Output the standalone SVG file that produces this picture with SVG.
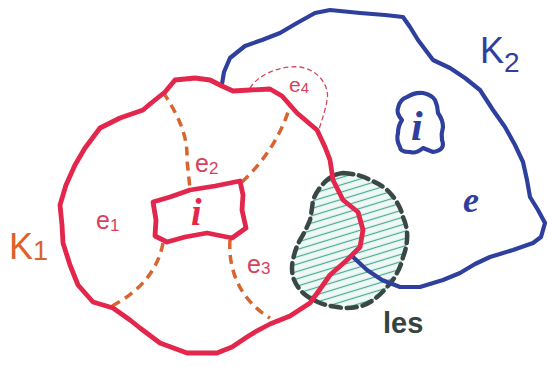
<svg xmlns="http://www.w3.org/2000/svg" width="548" height="367" viewBox="0 0 548 367">
<style>
.red{fill:none;stroke:#e3264c;stroke-width:4.8;stroke-linejoin:round;stroke-linecap:round}
.blue{fill:none;stroke:#2f3f9e;stroke-width:4.2;stroke-linejoin:round;stroke-linecap:round}
.dash{fill:none;stroke:#d8652f;stroke-width:3.5;stroke-dasharray:9 6;stroke-linecap:butt}
.thin{fill:none;stroke:#d9485a;stroke-width:1.3;stroke-dasharray:5 3}
.lbl{font-family:"Liberation Sans",Arial,sans-serif;fill:#d9405a}
</style>
<defs>
<pattern id="hatch" width="10" height="7" patternUnits="userSpaceOnUse" patternTransform="rotate(-17)">
<rect width="10" height="7" fill="#eef8f5"/>
<line x1="0" y1="3.5" x2="10" y2="3.5" stroke="#4aa894" stroke-width="1.2"/>
</pattern>
</defs>
<rect width="548" height="367" fill="#ffffff"/>
<g id="les">
<path d="M343,173 Q360,174 370,180 Q383,185 390,193 Q400,204 403,217 Q408,228 407,240 Q406,250 403,257 Q401,266 397,273 Q393,281 387,287 Q382,293 377,297 Q368,305 357,307 Q347,309 337,307 Q328,306 320,303 Q310,299 303,293 Q296,286 293,277 Q291,268 293,260 Q295,249 300,240 Q306,230 310,220 Q312,210 313,200 Q318,188 327,180 Q334,174 343,173 Z" fill="url(#hatch)" stroke="#3a4845" stroke-width="4.5" stroke-dasharray="10 6" stroke-linecap="round"/>
<text x="383" y="333" font-family="'Liberation Sans',Arial,sans-serif" font-weight="bold" font-size="29" fill="#34443f">les</text>
</g>
<g id="connectors">
<path class="dash" d="M163,92 C178,115 188,135 187,160 L190,189"/>
<path class="dash" d="M242,182 C260,165 280,140 290,106"/>
<path class="dash" d="M163,243 C158,270 140,292 110,307"/>
<path class="dash" d="M230,240 C228,270 240,300 270,318"/>
<path class="thin" d="M250,88 C258,75 280,65 300,67 C320,70 330,88 327,100 C325,113 320,125 318,133"/>
</g>
<g id="K2">
<path class="blue" d="M222,84 L224,72 L230,58 L245,46 L262,40 L280,33 L297,23 L315,13 L330,10 L360,13 L385,15 L403,17 L410,27 L418,40 L433,60 L450,68 L465,78 L480,90 L493,110 L505,127 L515,145 L523,162 L527,180 L530,197 L538,210 L545,223 L541,237 L533,243 L513,250 L490,257 L475,264 L460,273 L443,280 L420,287 L400,287 L382,280 L367,270 L353,257"/>
<text x="480" y="63" font-family="'Liberation Sans',Arial,sans-serif" font-size="36" fill="#2f3f9e">K<tspan font-size="28" dy="9">2</tspan></text>
<text x="463" y="212" font-family="'Liberation Serif',serif" font-style="italic" font-weight="bold" font-size="36" fill="#2f3f9e">e</text>
</g>
<g id="K2-interior">
<path class="blue" d="M407,97 Q415,92 423,93 Q432,95 435,100 Q438,107 438,113 Q443,120 443,127 Q441,134 442,140 Q446,150 433,152 Q428,150 423,148 Q416,154 410,152 Q400,152 400,147 Q396,140 398,133 Q398,126 402,120 Q396,113 398,108 Q400,99 407,97 Z"/>
<text x="411" y="140" font-family="'Liberation Serif',serif" font-style="italic" font-weight="bold" font-size="42" fill="#2f3f9e">i</text>
</g>
<g id="K1">
<path class="red" d="M222,86 L233,91 L250,90 L270,89 L282,96 L297,113 L317,130 L325,147 L330,160 L333,180 L343,200 L358,212 L363,230 L360,247 L347,260 L330,275 L318,292 L310,303 L290,316 L270,324 L255,332 L247,337 L232,347 L217,353 L187,353 L160,343 L140,328 L130,320 L113,308 L93,302 L78,285 L70,265 L63,243 L62,225 L60,205 L66,185 L75,165 L85,148 L100,128 L120,118 L143,110 L150,104 L165,92 L175,80 L195,78 L210,80 Z"/>
<text x="9" y="259" font-family="'Liberation Sans',Arial,sans-serif" font-size="36" fill="#e0602a">K<tspan font-size="27" dy="1">1</tspan></text>
</g>
<g id="K1-interior">
<path class="red" stroke-width="5" d="M153,202 L170,197 L190,190 L215,186 L240,181 L243,195 L242,210 L246,228 L232,238 L207,233 L185,237 L167,242 L155,236 L156,220 Z"/>
<text x="191" y="225" font-family="'Liberation Serif',serif" font-style="italic" font-weight="bold" font-size="38" fill="#e3264c">i</text>
</g>
<g id="e1"><text class="lbl" x="96" y="229" font-size="25">e<tspan font-size="17" dy="2">1</tspan></text></g>
<g id="e2"><text class="lbl" x="195" y="172" font-size="25">e<tspan font-size="17" dy="2">2</tspan></text></g>
<g id="e3"><text class="lbl" x="247" y="273" font-size="25">e<tspan font-size="17" dy="1">3</tspan></text></g>
<g id="e4"><text class="lbl" x="289" y="92" font-size="21">e<tspan font-size="15" dy="1">4</tspan></text></g>
</svg>
